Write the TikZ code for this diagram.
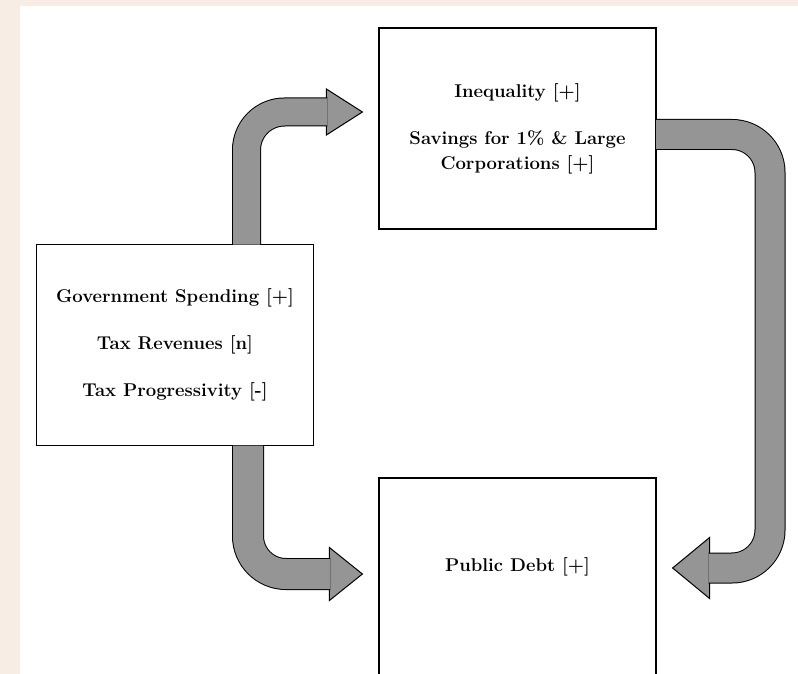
\documentclass[tikz,border=0pt]{standalone}
\usetikzlibrary{positioning,calc}

\definecolor{pagebg}{RGB}{247,237,229}
\definecolor{pipegray}{RGB}{149,149,149}

\tikzset{
  factorbox/.style={draw, line width=1.2pt, minimum width=277pt, minimum height=201pt,
    inner sep=0pt, align=center, font=\fontsize{18.5}{25}\selectfont\bfseries},
  pipe/.style={draw=black, line width=1pt, double=pipegray, double distance=#1,
    rounded corners=38pt},
  pipehead/.style={draw=black, line width=1pt, fill=pipegray, line join=miter},
}

\begin{document}
\begin{tikzpicture}[x=1pt, y=-1pt]

\useasboundingbox (0,0) rectangle (798,674);
\fill [pagebg] (0,0) rectangle (798,674);
\fill [white] (20,6) rectangle (798,674);

\def\paragap{22pt}

\node [factorbox] (ineq) at (517.5,128.5) {Inequality [+]\\[\paragap]Savings for 1\% \& Large\\Corporations [+]};
\node [factorbox] (gov) at (175,345) {Government Spending [+]\\[\paragap]Tax Revenues [n]\\[\paragap]Tax Progressivity [-]};
\node [factorbox, text height=13pt, text depth=27pt] (debt) at (517.5,578.5) {Public Debt [+]};

% spending -> inequality
\coordinate (tipA) at ($(ineq.west)+(-16,-16.5)$);
\draw [pipehead] (tipA) -- ++(-36,-23) -- ++(0,46) -- cycle;
\draw [pipe=27pt] ($(gov.north)+(71.5,0.6)$) |- ($(tipA)+(-35,0)$);

% spending -> public debt
\coordinate (tipC) at ($(debt.west)+(-16,-4.5)$);
\draw [pipehead] (tipC) -- ++(-33,-26.5) -- ++(0,53) -- cycle;
\draw [pipe=30pt] ($(gov.south)+(73,-0.6)$) |- ($(tipC)+(-32,0)$);

% inequality -> public debt
\coordinate (tipB) at ($(debt.east)+(16,-10.5)$);
\draw [pipehead] (tipB) -- ++(37,-30.5) -- ++(0,61) -- cycle;
\draw [pipe=29pt] ($(ineq.east)+(-0.6,6)$) -| (770,568) -- ($(tipB)+(36,0)$);

\end{tikzpicture}
\end{document}
